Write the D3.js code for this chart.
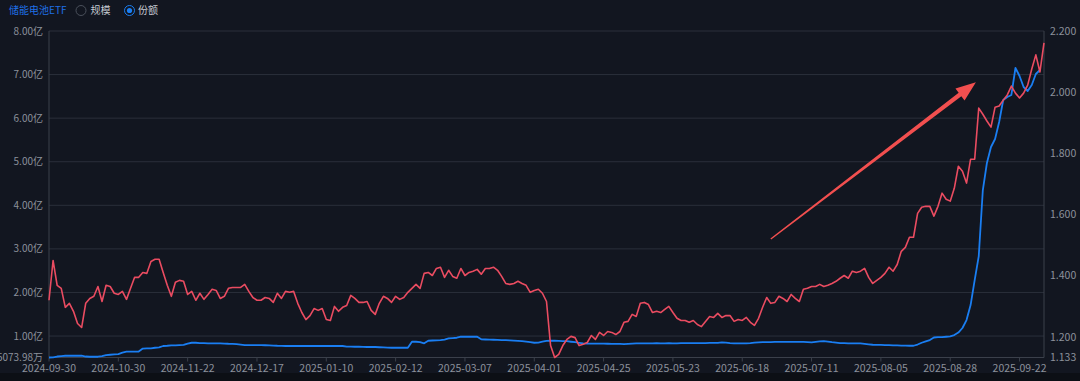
<!DOCTYPE html>
<html>
<head>
<meta charset="utf-8">
<script src="https://cdn.jsdelivr.net/npm/d3@7"></script>
<style>
  html, body { margin: 0; padding: 0; background: #121620; }
  svg { display: block; }
  text { font-family: "Noto Sans CJK SC", "Noto Sans", sans-serif; }
</style>
</head>
<body>
<div id="chart"></div>
<script>
// 储能电池ETF - 份额 (left, 亿) vs 价格 (right)

const xTickLabels = ['2024-09-30', '2024-10-30', '2024-11-22', '2024-12-17', '2025-01-10',
  '2025-02-12', '2025-03-07', '2025-04-01', '2025-04-25', '2025-05-23', '2025-06-18',
  '2025-07-11', '2025-08-05', '2025-08-28', '2025-09-22'];
const xTickIndex = [0, 17, 34, 51, 68, 85, 102, 119, 136, 153, 170, 187, 204, 221, 238];

const leftTicks = [0.507398, 1, 2, 3, 4, 5, 6, 7, 8];
const rightTicks = [1.133, 1.2, 1.4, 1.6, 1.8, 2.0, 2.2];

// price series (red, right axis)
const price = [
  1.320, 1.450, 1.369, 1.359, 1.297, 1.310, 1.284, 1.244, 1.231, 1.310,
  1.326, 1.333, 1.365, 1.316, 1.369, 1.365, 1.343, 1.339, 1.349, 1.323,
  1.359, 1.395, 1.395, 1.411, 1.408, 1.447, 1.454, 1.454, 1.411, 1.369,
  1.333, 1.379, 1.385, 1.382, 1.339, 1.349, 1.320, 1.343, 1.323, 1.339,
  1.356, 1.352, 1.326, 1.333, 1.359, 1.362, 1.362, 1.362, 1.372, 1.349,
  1.329, 1.320, 1.320, 1.329, 1.326, 1.313, 1.343, 1.326, 1.349, 1.346,
  1.349, 1.310, 1.280, 1.257, 1.270, 1.293, 1.287, 1.293, 1.257, 1.254,
  1.300, 1.284, 1.297, 1.303, 1.336, 1.326, 1.313, 1.313, 1.316, 1.287,
  1.274, 1.310, 1.333, 1.326, 1.313, 1.333, 1.323, 1.329, 1.346, 1.359,
  1.372, 1.359, 1.408, 1.411, 1.401, 1.424, 1.428, 1.395, 1.418, 1.398,
  1.392, 1.424, 1.401, 1.411, 1.415, 1.421, 1.405, 1.424, 1.424, 1.428,
  1.418, 1.398, 1.375, 1.372, 1.375, 1.382, 1.375, 1.369, 1.346, 1.352,
  1.356, 1.343, 1.316, 1.172, 1.133, 1.143, 1.172, 1.192, 1.202, 1.198,
  1.172, 1.176, 1.182, 1.205, 1.192, 1.215, 1.205, 1.218, 1.215, 1.208,
  1.218, 1.248, 1.251, 1.274, 1.267, 1.310, 1.313, 1.306, 1.280, 1.284,
  1.280, 1.290, 1.300, 1.280, 1.261, 1.254, 1.254, 1.248, 1.254, 1.241,
  1.234, 1.251, 1.267, 1.264, 1.277, 1.264, 1.270, 1.270, 1.251, 1.257,
  1.254, 1.264, 1.248, 1.238, 1.261, 1.297, 1.329, 1.310, 1.313, 1.333,
  1.326, 1.316, 1.339, 1.326, 1.316, 1.356, 1.359, 1.365, 1.365, 1.372,
  1.365, 1.369, 1.375, 1.382, 1.392, 1.401, 1.392, 1.415, 1.411, 1.415,
  1.424, 1.395, 1.375, 1.385, 1.395, 1.408, 1.428, 1.415, 1.437, 1.480,
  1.493, 1.526, 1.526, 1.604, 1.624, 1.627, 1.627, 1.595, 1.627, 1.670,
  1.650, 1.644, 1.686, 1.758, 1.742, 1.703, 1.781, 1.781, 1.948, 1.928,
  1.906, 1.886, 1.951, 1.955, 1.974, 1.991, 2.020, 1.997, 1.981, 1.997,
  2.023, 2.076, 2.122, 2.066, 2.161
];

// fund shares series (blue, left axis, 亿份)
const shares = [
  0.5074, 0.510, 0.530, 0.541, 0.548, 0.548, 0.548, 0.548, 0.548, 0.530,
  0.525, 0.525, 0.525, 0.541, 0.564, 0.571, 0.580, 0.587, 0.617, 0.640,
  0.640, 0.640, 0.644, 0.713, 0.718, 0.718, 0.731, 0.741, 0.771, 0.777,
  0.787, 0.787, 0.793, 0.798, 0.828, 0.846, 0.846, 0.839, 0.835, 0.832,
  0.832, 0.832, 0.830, 0.828, 0.823, 0.821, 0.812, 0.803, 0.793, 0.793,
  0.793, 0.793, 0.793, 0.789, 0.787, 0.782, 0.777, 0.775, 0.771, 0.771,
  0.771, 0.771, 0.771, 0.771, 0.771, 0.771, 0.771, 0.771, 0.771, 0.771,
  0.771, 0.771, 0.771, 0.759, 0.759, 0.754, 0.754, 0.752, 0.748, 0.748,
  0.748, 0.743, 0.738, 0.734, 0.731, 0.731, 0.731, 0.731, 0.731, 0.869,
  0.869, 0.862, 0.832, 0.892, 0.897, 0.901, 0.908, 0.920, 0.947, 0.954,
  0.961, 0.984, 0.984, 0.984, 0.984, 0.984, 0.924, 0.920, 0.917, 0.915,
  0.913, 0.908, 0.904, 0.899, 0.894, 0.890, 0.885, 0.874, 0.862, 0.846,
  0.851, 0.874, 0.890, 0.892, 0.892, 0.890, 0.885, 0.881, 0.869, 0.858,
  0.844, 0.832, 0.828, 0.828, 0.826, 0.826, 0.826, 0.823, 0.821, 0.821,
  0.821, 0.816, 0.821, 0.826, 0.830, 0.832, 0.832, 0.833, 0.832, 0.834,
  0.832, 0.833, 0.834, 0.832, 0.833, 0.835, 0.836, 0.835, 0.837, 0.838,
  0.838, 0.839, 0.844, 0.844, 0.844, 0.855, 0.849, 0.839, 0.832, 0.832,
  0.832, 0.832, 0.839, 0.851, 0.855, 0.858, 0.860, 0.862, 0.867, 0.867,
  0.867, 0.867, 0.867, 0.867, 0.867, 0.867, 0.862, 0.855, 0.867, 0.878,
  0.885, 0.874, 0.860, 0.849, 0.839, 0.835, 0.832, 0.832, 0.832, 0.832,
  0.821, 0.810, 0.800, 0.798, 0.796, 0.793, 0.793, 0.787, 0.785, 0.782,
  0.780, 0.777, 0.777, 0.805, 0.846, 0.878, 0.908, 0.966, 0.977, 0.977,
  0.984, 0.993, 1.023, 1.080, 1.184, 1.367, 1.711, 2.285, 2.836, 4.351,
  4.971, 5.338, 5.522, 5.912, 6.417, 6.486, 6.532, 7.151, 6.967, 6.715,
  6.623, 6.761, 7.013, 7.105
];

// annotation arrow, in data units (index, 亿)
const arrowFrom = [177.0, 3.226];
const arrowTo = [227.3, 6.822];

const width = 1080, height = 381;
const plot = { left: 49, right: 1044, top: 31, bottom: 357.5 };

const colors = {
  bg: '#121620',
  band: '#0c0f15',
  grid: '#2a2f3a',
  axis: '#3b404b',
  label: '#8c919b',
  red: '#ea4c61',
  blue: '#1a7ef2',
  arrow: '#f24f4f'
};

const svg = d3.select('#chart').append('svg')
  .attr('width', width)
  .attr('height', height);

svg.append('rect').attr('width', width).attr('height', height).attr('fill', colors.bg);
svg.append('rect').attr('y', 373).attr('width', width).attr('height', height - 373).attr('fill', colors.band);

const x = d3.scaleLinear().domain([0, price.length - 1]).range([plot.left, plot.right]);
const yL = d3.scaleLinear().domain([leftTicks[0], 8]).range([plot.bottom, plot.top]);
const yR = d3.scaleLinear().domain([1.133, 2.2]).range([plot.bottom, plot.top]);

// grid lines
svg.append('g').selectAll('line')
  .data(leftTicks.slice(1))
  .enter().append('line')
  .attr('x1', plot.left).attr('x2', plot.right)
  .attr('y1', d => yL(d)).attr('y2', d => yL(d))
  .attr('stroke', colors.grid).attr('stroke-width', 1);

// axis lines
svg.append('line').attr('x1', plot.left).attr('x2', plot.right)
  .attr('y1', plot.bottom).attr('y2', plot.bottom).attr('stroke', colors.axis);
svg.append('line').attr('x1', plot.left).attr('x2', plot.left)
  .attr('y1', plot.top).attr('y2', plot.bottom).attr('stroke', colors.axis);
svg.append('line').attr('x1', plot.right).attr('x2', plot.right)
  .attr('y1', plot.top).attr('y2', plot.bottom).attr('stroke', colors.axis);

// left axis labels
svg.append('g').selectAll('text')
  .data(leftTicks)
  .enter().append('text')
  .attr('x', 43)
  .attr('y', d => yL(d))
  .attr('dy', '0.35em')
  .attr('text-anchor', 'end')
  .attr('font-size', 10)
  .attr('fill', colors.label)
  .text(d => d < 1 ? (d * 10000).toFixed(2) + '万' : d.toFixed(2) + '亿');

// right axis labels
svg.append('g').selectAll('text')
  .data(rightTicks)
  .enter().append('text')
  .attr('x', plot.right + 6)
  .attr('y', d => yR(d))
  .attr('dy', '0.35em')
  .attr('font-size', 10.5)
  .attr('fill', colors.label)
  .text(d => d.toFixed(3));

// x axis ticks + labels
const xt = svg.append('g').selectAll('g')
  .data(xTickIndex)
  .enter().append('g')
  .attr('transform', d => `translate(${x(d)},${plot.bottom})`);
xt.append('line').attr('y2', 4).attr('stroke', colors.axis);
xt.append('text')
  .attr('y', 14)
  .attr('text-anchor', 'middle')
  .attr('font-size', 10.5)
  .attr('fill', colors.label)
  .text((d, i) => xTickLabels[i]);

// series lines
const priceLine = d3.line().x((d, i) => x(i)).y(d => yR(d));
const sharesLine = d3.line().x((d, i) => x(i)).y(d => yL(d));

svg.append('path').datum(shares)
  .attr('d', sharesLine)
  .attr('fill', 'none').attr('stroke', colors.blue).attr('stroke-width', 1.8)
  .attr('stroke-linejoin', 'round');

svg.append('path').datum(price)
  .attr('d', priceLine)
  .attr('fill', 'none').attr('stroke', colors.red).attr('stroke-width', 1.6)
  .attr('stroke-linejoin', 'round');

// arrow annotation (tapered shaft + head)
function drawArrow(from, to) {
  const x0 = x(from[0]), y0 = yL(from[1]);
  const x1 = x(to[0]), y1 = yL(to[1]);
  const len = Math.hypot(x1 - x0, y1 - y0);
  const ux = (x1 - x0) / len, uy = (y1 - y0) / len;
  const nx = -uy, ny = ux;
  const headLen = 20, headHalf = 7.5, tail = 0.7, neck = 2.2;
  const bx = x1 - ux * headLen, by = y1 - uy * headLen;
  const pts = [
    [x0 + nx * tail, y0 + ny * tail],
    [bx + nx * neck, by + ny * neck],
    [bx + nx * headHalf, by + ny * headHalf],
    [x1, y1],
    [bx - nx * headHalf, by - ny * headHalf],
    [bx - nx * neck, by - ny * neck],
    [x0 - nx * tail, y0 - ny * tail]
  ];
  svg.append('polygon')
    .attr('points', pts.map(p => p.join(',')).join(' '))
    .attr('fill', colors.arrow);
}
drawArrow(arrowFrom, arrowTo);

// legend / toggles
const legend = svg.append('g');
legend.append('text')
  .attr('x', 9).attr('y', 14)
  .attr('font-size', 10).attr('fill', '#1f6fe6')
  .text('储能电池ETF');
legend.append('circle')
  .attr('cx', 81).attr('cy', 10.5).attr('r', 5)
  .attr('fill', 'none').attr('stroke', '#4a505b').attr('stroke-width', 1);
legend.append('text')
  .attr('x', 90.5).attr('y', 14)
  .attr('font-size', 10).attr('fill', '#c5c9d1')
  .text('规模');
legend.append('circle')
  .attr('cx', 129.5).attr('cy', 10.5).attr('r', 5)
  .attr('fill', 'none').attr('stroke', colors.blue).attr('stroke-width', 1);
legend.append('circle')
  .attr('cx', 129.5).attr('cy', 10.5).attr('r', 2.6)
  .attr('fill', colors.blue);
legend.append('text')
  .attr('x', 138).attr('y', 14)
  .attr('font-size', 10).attr('fill', '#c5c9d1')
  .text('份额');
</script>
</body>
</html>
